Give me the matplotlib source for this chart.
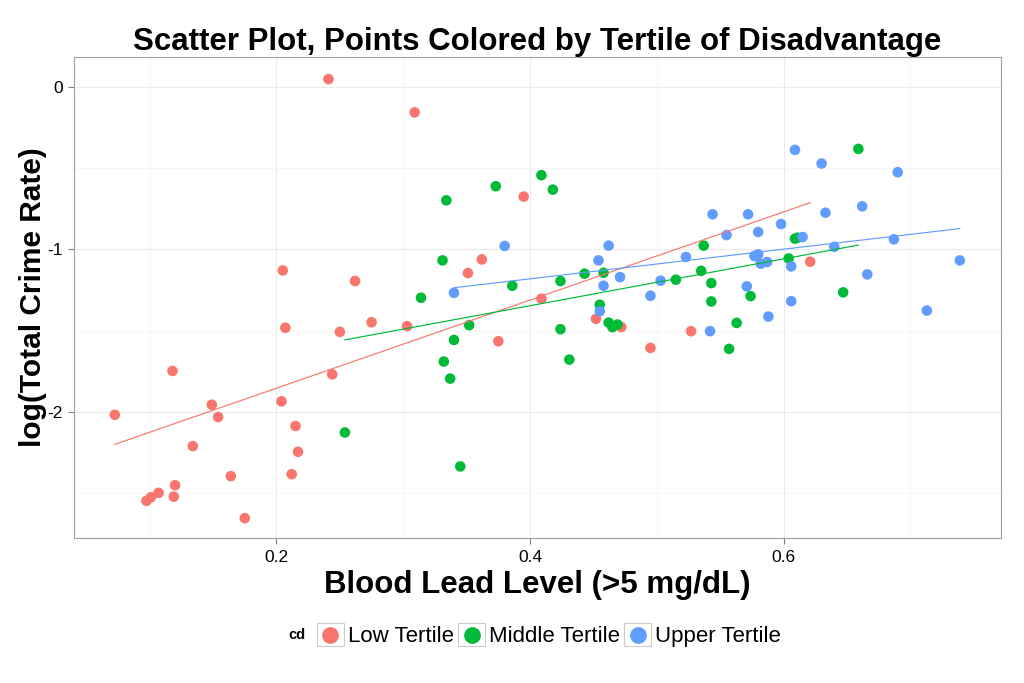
import numpy as np
import matplotlib
matplotlib.use("Agg")
import matplotlib.pyplot as plt
from matplotlib.legend_handler import HandlerBase
from matplotlib.patches import Rectangle
from matplotlib.lines import Line2D

plt.rcParams['font.family'] = ['Liberation Sans', 'DejaVu Sans']

groups = ["Low Tertile", "Middle Tertile", "Upper Tertile"]
colors = ["#F8766D", "#00BA38", "#619CFF"]

low_x = [0.241, 0.309, 0.395, 0.205, 0.262, 0.362, 0.351, 0.0725, 0.118, 0.149, 0.154, 0.134,
         0.164, 0.120, 0.119, 0.107, 0.101, 0.0975, 0.175, 0.207, 0.204, 0.215, 0.217, 0.212,
         0.244, 0.250, 0.275, 0.303, 0.375, 0.409, 0.452, 0.472, 0.495, 0.527, 0.621]
low_y = [0.049, -0.156, -0.675, -1.130, -1.195, -1.062, -1.146, -2.019, -1.749, -1.957, -2.033, -2.212,
         -2.397, -2.453, -2.523, -2.500, -2.527, -2.549, -2.656, -1.483, -1.936, -2.088, -2.247, -2.385,
         -1.770, -1.508, -1.449, -1.473, -1.566, -1.304, -1.428, -1.479, -1.607, -1.504, -1.076]

mid_x = [0.409, 0.418, 0.373, 0.334, 0.331, 0.386, 0.314, 0.352, 0.340, 0.332, 0.337, 0.254,
         0.345, 0.424, 0.443, 0.458, 0.455, 0.424, 0.462, 0.465, 0.469, 0.515, 0.535, 0.537,
         0.543, 0.543, 0.563, 0.557, 0.574, 0.431, 0.659, 0.609, 0.611, 0.604, 0.647]
mid_y = [-0.543, -0.632, -0.611, -0.698, -1.068, -1.224, -1.298, -1.467, -1.558, -1.691, -1.796, -2.128,
         -2.337, -1.195, -1.150, -1.144, -1.341, -1.492, -1.451, -1.479, -1.463, -1.187, -1.132, -0.977,
         -1.208, -1.321, -1.453, -1.613, -1.288, -1.679, -0.381, -0.934, -0.928, -1.056, -1.265]

up_x = [0.380, 0.340, 0.462, 0.454, 0.458, 0.471, 0.455, 0.495, 0.503, 0.523, 0.544, 0.555,
        0.572, 0.571, 0.542, 0.609, 0.630, 0.690, 0.580, 0.598, 0.633, 0.662, 0.615, 0.640,
        0.687, 0.739, 0.577, 0.580, 0.582, 0.587, 0.606, 0.666, 0.606, 0.588, 0.713]
up_y = [-0.979, -1.268, -0.977, -1.068, -1.224, -1.171, -1.381, -1.286, -1.193, -1.047, -0.784, -0.912,
        -0.784, -1.228, -1.504, -0.387, -0.471, -0.525, -0.893, -0.844, -0.774, -0.735, -0.924, -0.984,
        -0.938, -1.068, -1.041, -1.031, -1.088, -1.078, -1.105, -1.154, -1.319, -1.414, -1.377]

xs = [low_x, mid_x, up_x]
ys = [low_y, mid_y, up_y]

x_ticks = [0.2, 0.4, 0.6]
y_ticks = [0, -1, -2]

fig = plt.figure(figsize=(10.24, 6.83), dpi=100)
ax = fig.add_axes([74/1024, 1-538/683, (1001-74)/1024, (538-57)/683])

handles = []
for gx, gy, col, name in zip(xs, ys, colors, groups):
    gx = np.array(gx); gy = np.array(gy)
    h = ax.scatter(gx, gy, s=58, color=col, edgecolors='none', zorder=3, label=name)
    handles.append(h)
for gx, gy, col in zip(xs, ys, colors):
    gx = np.array(gx); gy = np.array(gy)
    b, a = np.polyfit(gx, gy, 1)
    lx = np.array([gx.min(), gx.max()])
    ax.plot(lx, a + b*lx, color=col, lw=0.85, zorder=4)

ax.set_xlim(0.0403, 0.7715)
ax.set_ylim(-2.778, 0.185)
ax.set_xticks(x_ticks)
ax.set_xticklabels([str(t) for t in x_ticks])
ax.set_yticks(y_ticks)
ax.set_yticklabels([str(t) for t in y_ticks])
ax.set_xticks([0.1, 0.3, 0.5, 0.7], minor=True)
ax.set_yticks([-0.5, -1.5, -2.5], minor=True)
ax.grid(True, which='major', color='#EBEBEB', lw=0.8, zorder=0)
ax.grid(True, which='minor', color='#F5F5F5', lw=0.6, zorder=0)
ax.set_axisbelow(True)
ax.tick_params(which='minor', length=0)
ax.tick_params(which='major', length=4, color='#7F7F7F', labelsize=12.5, labelcolor='black',
               width=0.8, pad=4)
ax.tick_params(axis='x', which='major', pad=5)
for sp in ax.spines.values():
    sp.set_color('#A0A0A0')
    sp.set_linewidth(0.8)

ax.set_title("Scatter Plot, Points Colored by Tertile of Disadvantage", fontsize=22.5,
             fontweight='bold', pad=5)
ax.set_xlabel("Blood Lead Level (>5 mg/dL)", fontsize=22.5, fontweight='bold', labelpad=3)
ax.set_ylabel("log(Total Crime Rate)", fontsize=21.5, fontweight='bold', labelpad=0)


class BoxedHandler(HandlerBase):
    def create_artists(self, legend, orig_handle, xdescent, ydescent, width, height, fontsize, trans):
        rect = Rectangle((-xdescent, -ydescent), width, height, facecolor='white',
                         edgecolor='#CCCCCC', lw=0.8, transform=trans)
        dot = Line2D([-xdescent + width/2], [-ydescent + height/2], marker='o', markersize=11,
                     color=orig_handle.get_facecolor()[0], lw=0, transform=trans)
        return [rect, dot]


leg = fig.legend(handles, groups, loc='center', bbox_to_anchor=(549/1024, 1-635/683), ncol=3,
                 frameon=False, fontsize=16, handlelength=1.22, handleheight=1.22,
                 handletextpad=0.18, columnspacing=0.18,
                 handler_map={h: BoxedHandler() for h in handles})
fig.text(297/1024, 1-635/683, "cd", fontsize=10.5, fontweight='bold', ha='center', va='center')

fig.savefig("out.png", dpi=100)
